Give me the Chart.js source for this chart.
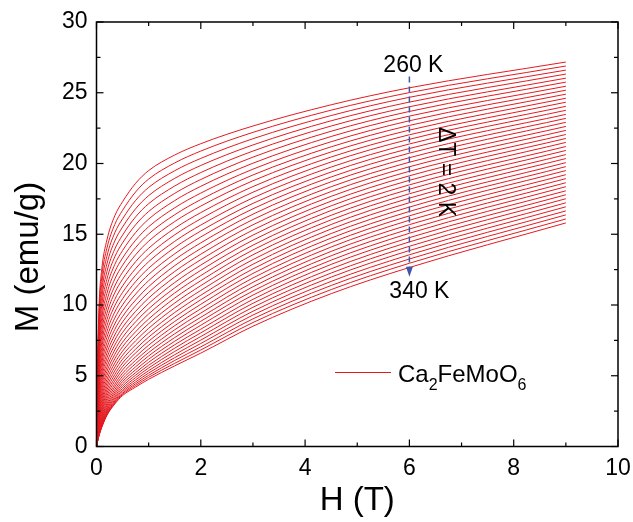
<!DOCTYPE html>
<html>
<head>
<meta charset="utf-8">
<script src="https://cdn.jsdelivr.net/npm/chart.js@4.4.1/dist/chart.umd.min.js"></script>
<style>
    html, body { margin: 0; padding: 0; background: #fff; }
    #wrap { width: 633px; height: 522px; }
</style>
</head>
<body>
<div id="wrap"><canvas id="mhChart" width="633" height="522"></canvas></div>
<script>
//  Field values (T) shared by every isotherm
const fieldH = [0, 0.02, 0.05, 0.1, 0.2, 0.35, 0.5, 0.75, 1, 1.5, 2, 3, 4.5, 6, 9];

//  Isotherm temperatures (K), step 2 K
const temperatures = [260, 262, 264, 266, 268, 270, 272, 274, 276, 278,
    280, 282, 284, 286, 288, 290, 292, 294, 296, 298,
    300, 302, 304, 306, 308, 310, 312, 314, 316, 318,
    320, 322, 324, 326, 328, 330, 332, 334, 336, 338, 340];

const magnetization = [
    [0, 5.50, 10.00, 12.50, 14.60, 16.30, 17.30, 18.60, 19.50, 20.60, 21.40, 22.65, 24.15, 25.35, 27.17],
    [0, 5.25, 9.55, 11.96, 14.02, 15.69, 16.69, 17.99, 18.90, 20.04, 20.88, 22.20, 23.77, 25.01, 26.89],
    [0, 5.00, 9.10, 11.44, 13.45, 15.10, 16.09, 17.39, 18.31, 19.49, 20.36, 21.75, 23.39, 24.68, 26.60],
    [0, 4.76, 8.67, 10.93, 12.90, 14.52, 15.51, 16.80, 17.73, 18.95, 19.86, 21.31, 23.02, 24.34, 26.32],
    [0, 4.52, 8.25, 10.43, 12.36, 13.95, 14.94, 16.23, 17.16, 18.41, 19.36, 20.88, 22.65, 24.01, 26.03],
    [0, 4.29, 7.84, 9.95, 11.83, 13.40, 14.39, 15.67, 16.61, 17.89, 18.87, 20.45, 22.28, 23.68, 25.75],
    [0, 4.07, 7.45, 9.48, 11.32, 12.86, 13.85, 15.12, 16.07, 17.38, 18.39, 20.02, 21.91, 23.35, 25.46],
    [0, 3.86, 7.06, 9.02, 10.82, 12.34, 13.32, 14.58, 15.53, 16.87, 17.91, 19.60, 21.54, 23.02, 25.18],
    [0, 3.65, 6.69, 8.58, 10.33, 11.83, 12.81, 14.06, 15.02, 16.38, 17.45, 19.19, 21.18, 22.69, 24.90],
    [0, 3.44, 6.33, 8.14, 9.86, 11.34, 12.31, 13.55, 14.51, 15.90, 16.99, 18.78, 20.82, 22.36, 24.61],
    [0, 3.25, 5.98, 7.73, 9.41, 10.86, 11.82, 13.06, 14.01, 15.42, 16.53, 18.37, 20.46, 22.03, 24.33],
    [0, 3.06, 5.64, 7.32, 8.97, 10.39, 11.35, 12.57, 13.53, 14.96, 16.09, 17.97, 20.11, 21.71, 24.04],
    [0, 2.87, 5.31, 6.93, 8.54, 9.94, 10.89, 12.10, 13.06, 14.50, 15.65, 17.57, 19.75, 21.38, 23.76],
    [0, 2.70, 4.99, 6.55, 8.12, 9.50, 10.44, 11.65, 12.60, 14.06, 15.23, 17.18, 19.40, 21.06, 23.47],
    [0, 2.53, 4.69, 6.19, 7.72, 9.07, 10.01, 11.20, 12.16, 13.62, 14.81, 16.80, 19.05, 20.73, 23.19],
    [0, 2.36, 4.39, 5.84, 7.33, 8.66, 9.59, 10.77, 11.72, 13.20, 14.39, 16.42, 18.71, 20.41, 22.91],
    [0, 2.20, 4.11, 5.50, 6.96, 8.27, 9.19, 10.35, 11.30, 12.78, 13.99, 16.04, 18.36, 20.09, 22.62],
    [0, 2.05, 3.84, 5.17, 6.60, 7.88, 8.80, 9.95, 10.89, 12.37, 13.59, 15.67, 18.02, 19.77, 22.34],
    [0, 1.91, 3.58, 4.86, 6.26, 7.52, 8.42, 9.55, 10.49, 11.98, 13.20, 15.30, 17.68, 19.45, 22.05],
    [0, 1.77, 3.34, 4.56, 5.93, 7.16, 8.06, 9.17, 10.10, 11.59, 12.82, 14.94, 17.34, 19.13, 21.77],
    [0, 1.64, 3.10, 4.28, 5.61, 6.82, 7.71, 8.81, 9.73, 11.21, 12.45, 14.58, 17.01, 18.81, 21.49],
    [0, 1.51, 2.88, 4.00, 5.31, 6.50, 7.37, 8.45, 9.37, 10.85, 12.08, 14.23, 16.68, 18.49, 21.20],
    [0, 1.39, 2.66, 3.75, 5.02, 6.19, 7.05, 8.11, 9.01, 10.49, 11.72, 13.89, 16.34, 18.18, 20.92],
    [0, 1.28, 2.46, 3.50, 4.74, 5.89, 6.74, 7.79, 8.68, 10.14, 11.37, 13.55, 16.02, 17.86, 20.63],
    [0, 1.17, 2.27, 3.27, 4.48, 5.61, 6.45, 7.47, 8.35, 9.80, 11.03, 13.21, 15.69, 17.55, 20.35],
    [0, 1.07, 2.09, 3.05, 4.23, 5.34, 6.17, 7.17, 8.03, 9.47, 10.69, 12.88, 15.37, 17.23, 20.06],
    [0, 0.98, 1.93, 2.84, 4.00, 5.08, 5.90, 6.88, 7.73, 9.15, 10.37, 12.55, 15.05, 16.92, 19.78],
    [0, 0.89, 1.77, 2.65, 3.78, 4.84, 5.65, 6.61, 7.44, 8.84, 10.05, 12.23, 14.73, 16.61, 19.50],
    [0, 0.81, 1.63, 2.47, 3.58, 4.62, 5.41, 6.34, 7.16, 8.54, 9.73, 11.91, 14.41, 16.30, 19.21],
    [0, 0.74, 1.50, 2.30, 3.39, 4.40, 5.18, 6.09, 6.89, 8.25, 9.43, 11.60, 14.10, 15.99, 18.93],
    [0, 0.67, 1.38, 2.15, 3.21, 4.21, 4.97, 5.86, 6.64, 7.97, 9.13, 11.29, 13.79, 15.68, 18.64],
    [0, 0.61, 1.27, 2.01, 3.04, 4.02, 4.77, 5.63, 6.40, 7.70, 8.85, 10.99, 13.48, 15.37, 18.36],
    [0, 0.56, 1.17, 1.89, 2.89, 3.85, 4.59, 5.42, 6.17, 7.44, 8.57, 10.70, 13.17, 15.07, 18.07],
    [0, 0.51, 1.08, 1.77, 2.76, 3.70, 4.42, 5.22, 5.95, 7.19, 8.29, 10.40, 12.87, 14.76, 17.79],
    [0, 0.47, 1.01, 1.67, 2.64, 3.55, 4.26, 5.04, 5.74, 6.95, 8.03, 10.12, 12.56, 14.46, 17.51],
    [0, 0.43, 0.94, 1.59, 2.53, 3.43, 4.11, 4.87, 5.55, 6.72, 7.77, 9.84, 12.26, 14.15, 17.22],
    [0, 0.40, 0.89, 1.51, 2.44, 3.31, 3.98, 4.71, 5.36, 6.49, 7.52, 9.56, 11.97, 13.85, 16.94],
    [0, 0.38, 0.85, 1.45, 2.36, 3.21, 3.87, 4.56, 5.19, 6.28, 7.28, 9.29, 11.67, 13.55, 16.65],
    [0, 0.36, 0.82, 1.40, 2.29, 3.13, 3.76, 4.43, 5.03, 6.08, 7.04, 9.02, 11.38, 13.25, 16.37],
    [0, 0.35, 0.81, 1.37, 2.24, 3.06, 3.68, 4.31, 4.89, 5.88, 6.82, 8.76, 11.09, 12.95, 16.08],
    [0, 0.35, 0.80, 1.35, 2.20, 3.00, 3.60, 4.20, 4.75, 5.70, 6.60, 8.50, 10.80, 12.65, 15.80]
];

//  Axis ticks
const xTicks = [0, 2, 4, 6, 8, 10];
const yTicks = [0, 5, 10, 15, 20, 25, 30];
const xMinor = [1, 3, 5, 7, 9];
const yMinor = [2.5, 7.5, 12.5, 17.5, 22.5, 27.5];

const RED = "rgb(228,26,32)";
const BLUE = "#3c58a8";
const FONT = "'Liberation Sans', Arial, Helvetica, sans-serif";

Chart.defaults.font.family = FONT;
Chart.defaults.color = "#000";

//  Frame, inward ticks, titles and annotations
const decorPlugin = {
    id: "decor",
    afterDraw(chart) {
        const { ctx, chartArea: { left, right, top, bottom }, scales: { x, y } } = chart;
        ctx.save();

        // frame
        ctx.strokeStyle = "#000";
        ctx.lineWidth = 1.5;
        ctx.strokeRect(left, top, right - left, bottom - top);

        // ticks pointing into the plot, on all four sides
        const seg = (x1, y1, x2, y2) => {
            ctx.beginPath();
            ctx.moveTo(x1, y1);
            ctx.lineTo(x2, y2);
            ctx.stroke();
        };
        ctx.lineWidth = 1.2;
        xTicks.forEach(v => {
            const px = x.getPixelForValue(v);
            seg(px, bottom, px, bottom - 7);
            seg(px, top, px, top + 7);
        });
        xMinor.forEach(v => {
            const px = x.getPixelForValue(v);
            seg(px, bottom, px, bottom - 4);
            seg(px, top, px, top + 4);
        });
        yTicks.forEach(v => {
            const py = y.getPixelForValue(v);
            seg(left, py, left + 7, py);
            seg(right, py, right - 7, py);
        });
        yMinor.forEach(v => {
            const py = y.getPixelForValue(v);
            seg(left, py, left + 4, py);
            seg(right, py, right - 4, py);
        });

        // axis titles
        ctx.fillStyle = "#000";
        ctx.font = `33px ${FONT}`;
        ctx.textAlign = "center";
        ctx.textBaseline = "middle";
        ctx.fillText("H (T)", (left + right) / 2, 501);
        ctx.save();
        ctx.translate(29, 257);
        ctx.rotate(-Math.PI / 2);
        ctx.fillText("M (emu/g)", 0, 0);
        ctx.restore();

        // dashed arrow at H = 6 T, from 260 K down to 340 K
        const ax = x.getPixelForValue(6);
        const yStart = y.getPixelForValue(26.15);
        const yTip = y.getPixelForValue(12.0);
        ctx.strokeStyle = BLUE;
        ctx.fillStyle = BLUE;
        ctx.lineWidth = 1.5;
        ctx.setLineDash([6, 4]);
        seg(ax, yStart, ax, yTip - 9);
        ctx.setLineDash([]);
        ctx.beginPath();
        ctx.moveTo(ax - 3.5, yTip - 10);
        ctx.lineTo(ax + 3.5, yTip - 10);
        ctx.lineTo(ax, yTip);
        ctx.closePath();
        ctx.fill();

        // temperature labels
        ctx.fillStyle = "#000";
        ctx.font = `23px ${FONT}`;
        ctx.textBaseline = "alphabetic";
        ctx.fillText("260 K", ax + 4, 72);
        ctx.fillText("340 K", ax + 10, 298);

        // rotated step label
        ctx.save();
        ctx.translate(445, 172);
        ctx.rotate(Math.PI / 2);
        ctx.textBaseline = "middle";
        ctx.fillText("\u0394T = 2 K", 0, 0);
        ctx.restore();

        // legend with subscripts
        ctx.strokeStyle = RED;
        ctx.lineWidth = 1.2;
        seg(335, 372.5, 391, 372.5);
        ctx.fillStyle = "#000";
        ctx.textAlign = "left";
        ctx.textBaseline = "alphabetic";
        let lx = 398;
        const base = 381.5;
        const parts = [["Ca", 24, 0], ["2", 16, 8], ["FeMoO", 24, 0], ["6", 16, 8]];
        parts.forEach(([txt, size, drop]) => {
            ctx.font = `${size}px ${FONT}`;
            ctx.fillText(txt, lx, base + drop);
            lx += ctx.measureText(txt).width;
        });

        ctx.restore();
    }
};

const datasets = temperatures.map((t, i) => ({
    label: `${t} K`,
    data: fieldH.map((h, j) => ({ x: h, y: magnetization[i][j] })),
    borderColor: RED,
    borderWidth: 1,
    pointRadius: 0,
    fill: false,
    cubicInterpolationMode: "monotone"
}));

new Chart(document.getElementById("mhChart"), {
    type: "line",
    data: { datasets: datasets },
    options: {
        responsive: false,
        animation: false,
        devicePixelRatio: 1,
        layout: { padding: { top: 22, right: 15, left: 0, bottom: 0 } },
        plugins: { legend: { display: false }, tooltip: { enabled: false } },
        scales: {
            x: {
                type: "linear",
                min: 0,
                max: 10,
                afterBuildTicks: s => { s.ticks = xTicks.map(v => ({ value: v })); },
                afterFit: s => {
                    s.height = 75.5;
                    s.paddingLeft = 0;
                    s.paddingRight = 0;
                },
                grid: { display: false, drawTicks: false },
                border: { display: false },
                ticks: { font: { size: 23 }, padding: 8, maxRotation: 0 }
            },
            y: {
                type: "linear",
                min: 0,
                max: 30,
                afterBuildTicks: s => { s.ticks = yTicks.map(v => ({ value: v })); },
                afterFit: s => {
                    s.width = 96.5;
                    s.paddingTop = 0;
                    s.paddingBottom = 0;
                },
                grid: { display: false, drawTicks: false },
                border: { display: false },
                ticks: { font: { size: 23 }, padding: 9 }
            }
        }
    },
    plugins: [decorPlugin]
});
</script>
</body>
</html>
